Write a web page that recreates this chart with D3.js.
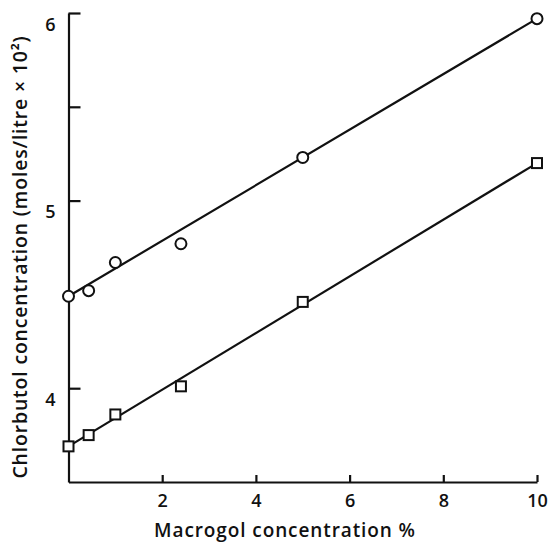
<!DOCTYPE html>
<html>
<head>
  <meta charset="UTF-8" />
  <script src="https://d3js.org/d3.v7.min.js"></script>
  <style>
    body { margin: 0; background: #fff; }
    text { font-family: "Open Sans", sans-serif; fill: #111; }
  </style>
</head>
<body>
  <div id="chart"></div>
  <script>
    // values
    const macrogol = [0, 0.43, 1, 2.4, 5, 10];
    const circleVals = [4.49, 4.52, 4.67, 4.77, 5.23, 5.97];
    const squareVals = [3.69, 3.75, 3.86, 4.01, 4.46, 5.20];
    // fitted lines, end points
    const fitX = [0, 10];
    const circleFit = [4.49, 5.97];
    const squareFit = [3.69, 5.20];
    const xTicks = [2, 4, 6, 8, 10];
    const yTicks = [4, 5, 5.5, 6];

    const width = 552, height = 543;

    const svg = d3.select("#chart")
      .append("svg")
      .attr("width", width)
      .attr("height", height);

    const x = d3.scaleLinear().domain([0, 10]).range([68.5, 537]);
    const y = d3.scaleLinear().domain([3.5, 6]).range([482, 13]);

    // axes, ticks point inward
    const xAxis = d3.axisBottom(x)
      .tickValues(xTicks)
      .tickSizeInner(-7)
      .tickSizeOuter(0)
      .tickPadding(12)
      .tickFormat(d3.format("d"));

    const yAxis = d3.axisLeft(y)
      .tickValues(yTicks)
      .tickSizeInner(-12)
      .tickSizeOuter(0)
      .tickPadding(13)
      .tickFormat(d => Number.isInteger(d) ? d : "");

    const gx = svg.append("g")
      .attr("transform", "translate(0," + y(3.5) + ")")
      .call(xAxis);
    const gy = svg.append("g")
      .attr("transform", "translate(" + x(0) + ",0)")
      .call(yAxis);

    [gx, gy].forEach(g => {
      g.select(".domain").attr("stroke", "#111").attr("stroke-width", 2.2);
      g.selectAll(".tick line").attr("stroke", "#111").attr("stroke-width", 2.2);
      g.selectAll(".tick text")
        .style("font-family", "'Open Sans', sans-serif")
        .style("font-size", "18px")
        .style("font-weight", "600")
        .attr("fill", "#111");
    });
    gy.selectAll(".tick text").attr("dy", "0.95em");

    // regression lines
    const line = d3.line()
      .x((d, i) => x(fitX[i]))
      .y(d => y(d));

    svg.append("path")
      .datum(circleFit)
      .attr("d", line)
      .attr("fill", "none")
      .attr("stroke", "#111")
      .attr("stroke-width", 2.2);

    svg.append("path")
      .datum(squareFit)
      .attr("d", line)
      .attr("fill", "none")
      .attr("stroke", "#111")
      .attr("stroke-width", 2.2);

    // markers
    svg.selectAll("circle.pt")
      .data(circleVals)
      .enter()
      .append("circle")
      .attr("class", "pt")
      .attr("cx", (d, i) => x(macrogol[i]))
      .attr("cy", d => y(d))
      .attr("r", 5.5)
      .attr("fill", "#fff")
      .attr("stroke", "#111")
      .attr("stroke-width", 2);

    const s = 10;
    svg.selectAll("rect.pt")
      .data(squareVals)
      .enter()
      .append("rect")
      .attr("class", "pt")
      .attr("x", (d, i) => x(macrogol[i]) - s / 2)
      .attr("y", d => y(d) - s / 2)
      .attr("width", s)
      .attr("height", s)
      .attr("fill", "#fff")
      .attr("stroke", "#111")
      .attr("stroke-width", 2);

    // axis titles
    svg.append("text")
      .attr("x", 285)
      .attr("y", 537)
      .attr("text-anchor", "middle")
      .style("font-size", "19px")
      .style("font-weight", "600")
      .style("letter-spacing", "0.9px")
      .text("Macrogol concentration %");

    svg.append("text")
      .attr("transform", "translate(27,257) rotate(-90)")
      .attr("text-anchor", "middle")
      .style("font-size", "19.5px")
      .style("font-weight", "600")
      .style("letter-spacing", "0.8px")
      .text("Chlorbutol concentration (moles/litre × 10²)");
  </script>
</body>
</html>
